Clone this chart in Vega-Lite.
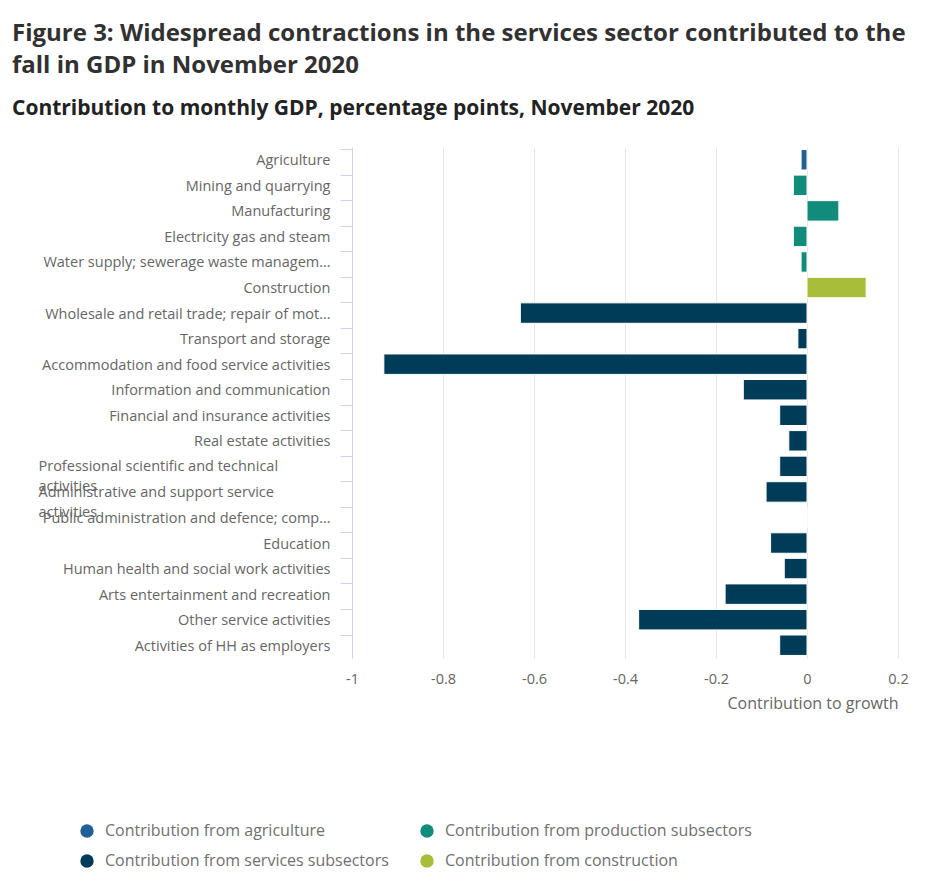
{
  "$schema": "https://vega.github.io/schema/vega-lite/v6.json",
  "width": 546,
  "height": 511,
  "autosize": {"type": "none"},
  "padding": {"left": 352, "top": 147, "right": 32, "bottom": 234},
  "background": "#ffffff",
  "config": {
    "font": "Open Sans",
    "view": {"stroke": null}
  },
  "title": {
    "text": ["Figure 3: Widespread contractions in the services sector contributed to the", "fall in GDP in November 2020"],
    "subtitle": "Contribution to monthly GDP, percentage points, November 2020",
    "anchor": "start",
    "frame": "group",
    "dx": -340,
    "offset": 28,
    "fontSize": 24,
    "fontWeight": "bold",
    "color": "#323132",
    "lineHeight": 32,
    "subtitleFontSize": 21,
    "subtitleFontWeight": "bold",
    "subtitleColor": "#222222",
    "subtitlePadding": 20,
    "font": "Open Sans",
    "subtitleFont": "Open Sans"
  },
  "data": {
    "values": [
      {"cat": "Agriculture", "group": "Contribution from agriculture", "value": -0.013},
      {"cat": "Mining and quarrying", "group": "Contribution from production subsectors", "value": -0.03},
      {"cat": "Manufacturing", "group": "Contribution from production subsectors", "value": 0.07},
      {"cat": "Electricity gas and steam", "group": "Contribution from production subsectors", "value": -0.03},
      {"cat": "Water supply; sewerage waste management and remediation activities", "group": "Contribution from production subsectors", "value": -0.013},
      {"cat": "Construction", "group": "Contribution from construction", "value": 0.13},
      {"cat": "Wholesale and retail trade; repair of motor vehicles and motorcycles", "group": "Contribution from services subsectors", "value": -0.63},
      {"cat": "Transport and storage", "group": "Contribution from services subsectors", "value": -0.02},
      {"cat": "Accommodation and food service activities", "group": "Contribution from services subsectors", "value": -0.93},
      {"cat": "Information and communication", "group": "Contribution from services subsectors", "value": -0.14},
      {"cat": "Financial and insurance activities", "group": "Contribution from services subsectors", "value": -0.06},
      {"cat": "Real estate activities", "group": "Contribution from services subsectors", "value": -0.04},
      {"cat": "Professional scientific and technical activities", "group": "Contribution from services subsectors", "value": -0.06},
      {"cat": "Administrative and support service activities", "group": "Contribution from services subsectors", "value": -0.09},
      {"cat": "Public administration and defence; compulsory social security", "group": "Contribution from services subsectors", "value": 0},
      {"cat": "Education", "group": "Contribution from services subsectors", "value": -0.08},
      {"cat": "Human health and social work activities", "group": "Contribution from services subsectors", "value": -0.05},
      {"cat": "Arts entertainment and recreation", "group": "Contribution from services subsectors", "value": -0.18},
      {"cat": "Other service activities", "group": "Contribution from services subsectors", "value": -0.37},
      {"cat": "Activities of HH as employers", "group": "Contribution from services subsectors", "value": -0.06}
    ]
  },
  "mark": {"type": "bar", "stroke": "#ffffff", "strokeWidth": 1},
  "encoding": {
    "y": {
      "field": "cat",
      "type": "nominal",
      "sort": null,
      "scale": {"paddingInner": 0.2, "paddingOuter": 0.1},
      "axis": {
        "title": null,
        "bandPosition": 0,
        "domainColor": "#ccd6eb",
        "tickColor": "#ccd6eb",
        "tickSize": 12,
        "labelFontSize": 14.5,
        "labelColor": "#666666",
        "labelLimit": 293,
        "labelLineHeight": 20,
        "labelExpr": "datum.value == 'Professional scientific and technical activities' ? ['Professional scientific and technical', 'activities'] : datum.value == 'Administrative and support service activities' ? ['Administrative and support service', 'activities'] : datum.value",
        "labelAlign": {"condition": {"test": "indexof(datum.value, 'Professional') == 0 || indexof(datum.value, 'Administrative') == 0", "value": "left"}, "value": "right"},
        "labelPadding": {"condition": {"test": "indexof(datum.value, 'Professional') == 0 || indexof(datum.value, 'Administrative') == 0", "value": 302}, "value": 10},
        "labelOffset": {"condition": {"test": "indexof(datum.value, 'Professional') == 0 || indexof(datum.value, 'Administrative') == 0", "value": 1}, "value": 1.5},
        "grid": false
      }
    },
    "x": {
      "field": "value",
      "type": "quantitative",
      "scale": {"domain": [-1, 0.2], "nice": false, "zero": false},
      "axis": {
        "values": [-1, -0.8, -0.6, -0.4, -0.2, 0, 0.2],
        "labelExpr": "toString(datum.value)",
        "labelFlush": false,
        "domain": false,
        "ticks": false,
        "grid": true,
        "gridColor": "#e6e6e6",
        "labelFontSize": 14.5,
        "labelColor": "#666666",
        "labelPadding": 14,
        "title": "Contribution to growth",
        "titleAnchor": "end",
        "titleFontSize": 16,
        "titleFontWeight": "normal",
        "titleColor": "#666666",
        "titlePadding": 10
      }
    },
    "color": {
      "field": "group",
      "type": "nominal",
      "scale": {
        "domain": ["Contribution from agriculture", "Contribution from production subsectors", "Contribution from services subsectors", "Contribution from construction"],
        "range": ["#206095", "#118c7b", "#003c57", "#a8bd3a"]
      },
      "legend": {
        "title": null,
        "orient": "none",
        "direction": "horizontal",
        "legendX": -273,
        "legendY": 676,
        "columns": 2,
        "gridAlign": "none",
        "columnPadding": 30,
        "rowPadding": 14,
        "symbolType": "circle",
        "symbolSize": 180,
        "symbolStrokeWidth": 0,
        "symbolOpacity": 1,
        "labelFontSize": 16,
        "labelColor": "#707070",
        "labelOffset": 10,
        "labelLimit": 400
      }
    }
  }
}
